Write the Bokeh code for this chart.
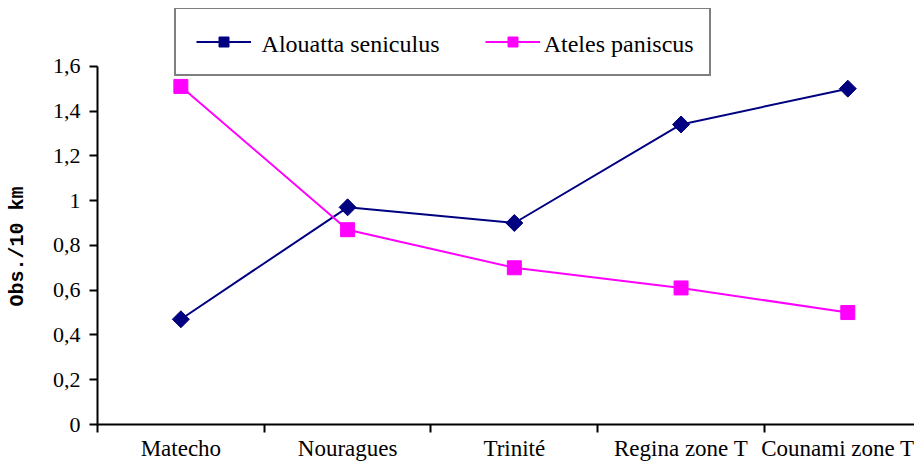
import math
from bokeh.plotting import figure
from bokeh.models import Range1d, FixedTicker, Legend, LegendItem
from bokeh.core.properties import value
from bokeh.embed import file_html
from bokeh.resources import INLINE

categories = ["Matecho", "Nouragues", "Trinité", "Regina zone T", "Counami zone T"]
series_names = ["Alouatta seniculus", "Ateles paniscus"]
alouatta = [0.47, 0.97, 0.90, 1.34, 1.50]
ateles = [1.51, 0.87, 0.70, 0.61, 0.50]
y_ticks = [0, 0.2, 0.4, 0.6, 0.8, 1.0, 1.2, 1.4, 1.6]
y_tick_labels = ["0", "0,2", "0,4", "0,6", "0,8", "1", "1,2", "1,4", "1,6"]
y_title = "Obs./10 km"

x_centers = [i + 0.5 for i in range(len(categories))]
x_bounds = [float(i) for i in range(len(categories))]

p = figure(width=914, height=463, output_backend="svg", toolbar_location=None,
           x_range=Range1d(0, 4.9), y_range=Range1d(0, 1.858),
           min_border_left=97, min_border_right=0, min_border_top=8, min_border_bottom=38)
p.outline_line_color = None
p.xgrid.visible = False
p.ygrid.visible = False

serif = "Liberation Serif"

xa = p.xaxis[0]
xa.ticker = FixedTicker(ticks=x_centers, minor_ticks=x_bounds)
xa.major_label_overrides = {x: c for x, c in zip(x_centers, categories)}
xa.major_tick_line_color = None
xa.major_tick_in = 0
xa.major_tick_out = 8
xa.minor_tick_in = 0
xa.minor_tick_out = 8
xa.minor_tick_line_width = 2
xa.axis_line_width = 2
xa.major_label_text_font = serif
xa.major_label_text_font_size = "23px"
xa.major_label_text_color = "black"
xa.major_label_standoff = 3

ya = p.yaxis[0]
ya.ticker = FixedTicker(ticks=y_ticks, minor_ticks=[])
ya.major_label_overrides = {t: l for t, l in zip(y_ticks, y_tick_labels)}
ya.bounds = (0, 1.6)
ya.major_tick_in = 0
ya.major_tick_out = 8
ya.major_tick_line_width = 2
ya.axis_line_width = 2
ya.major_label_text_font = serif
ya.major_label_text_font_size = "22px"
ya.major_label_text_color = "black"
ya.major_label_standoff = 9
# trailing spaces shift the rotated title down so it centres on the 0-1.6 span
ya.axis_label = y_title + "     "
ya.axis_label_text_font = "Liberation Mono"
ya.axis_label_text_font_size = "20px"
ya.axis_label_text_font_style = "bold"
ya.axis_label_text_color = "black"
ya.axis_label_standoff = 21

navy = "#000080"
magenta = "#FF00FF"
l1 = p.line(x_centers, alouatta, line_color=navy, line_width=2)
s1 = p.scatter(x_centers, alouatta, marker="square", angle=math.pi / 4, size=12,
               fill_color=navy, line_color=navy)
l2 = p.line(x_centers, ateles, line_color=magenta, line_width=2)
s2 = p.scatter(x_centers, ateles, marker="square", size=14,
               fill_color=magenta, line_color=magenta)

legend = Legend(items=[LegendItem(label=" ", renderers=[l1, s1]),
                       LegendItem(label=" ", renderers=[l2, s2])],
                orientation="horizontal", location=(77, 348))
legend.border_line_color = "black"
legend.border_line_width = 2
legend.background_fill_alpha = 0
legend.label_text_font_size = "10px"
legend.glyph_width = 55
legend.glyph_height = 25
legend.label_height = 25
legend.label_width = 144
legend.label_standoff = 5
legend.spacing = 85
legend.padding = 20
legend.margin = 0
p.add_layout(legend, "center")

# legend texts drawn as text glyphs inside the legend box
legend_text_x = [0.984, 2.676]
legend_text_y = [1.70, 1.70]
p.text(legend_text_x, legend_text_y, text=series_names,
       text_font=value(serif), text_font_style="normal", text_font_size="24px",
       text_color="black", text_baseline="middle", text_align="left")

open("out.html", "w").write(file_html(p, INLINE))
